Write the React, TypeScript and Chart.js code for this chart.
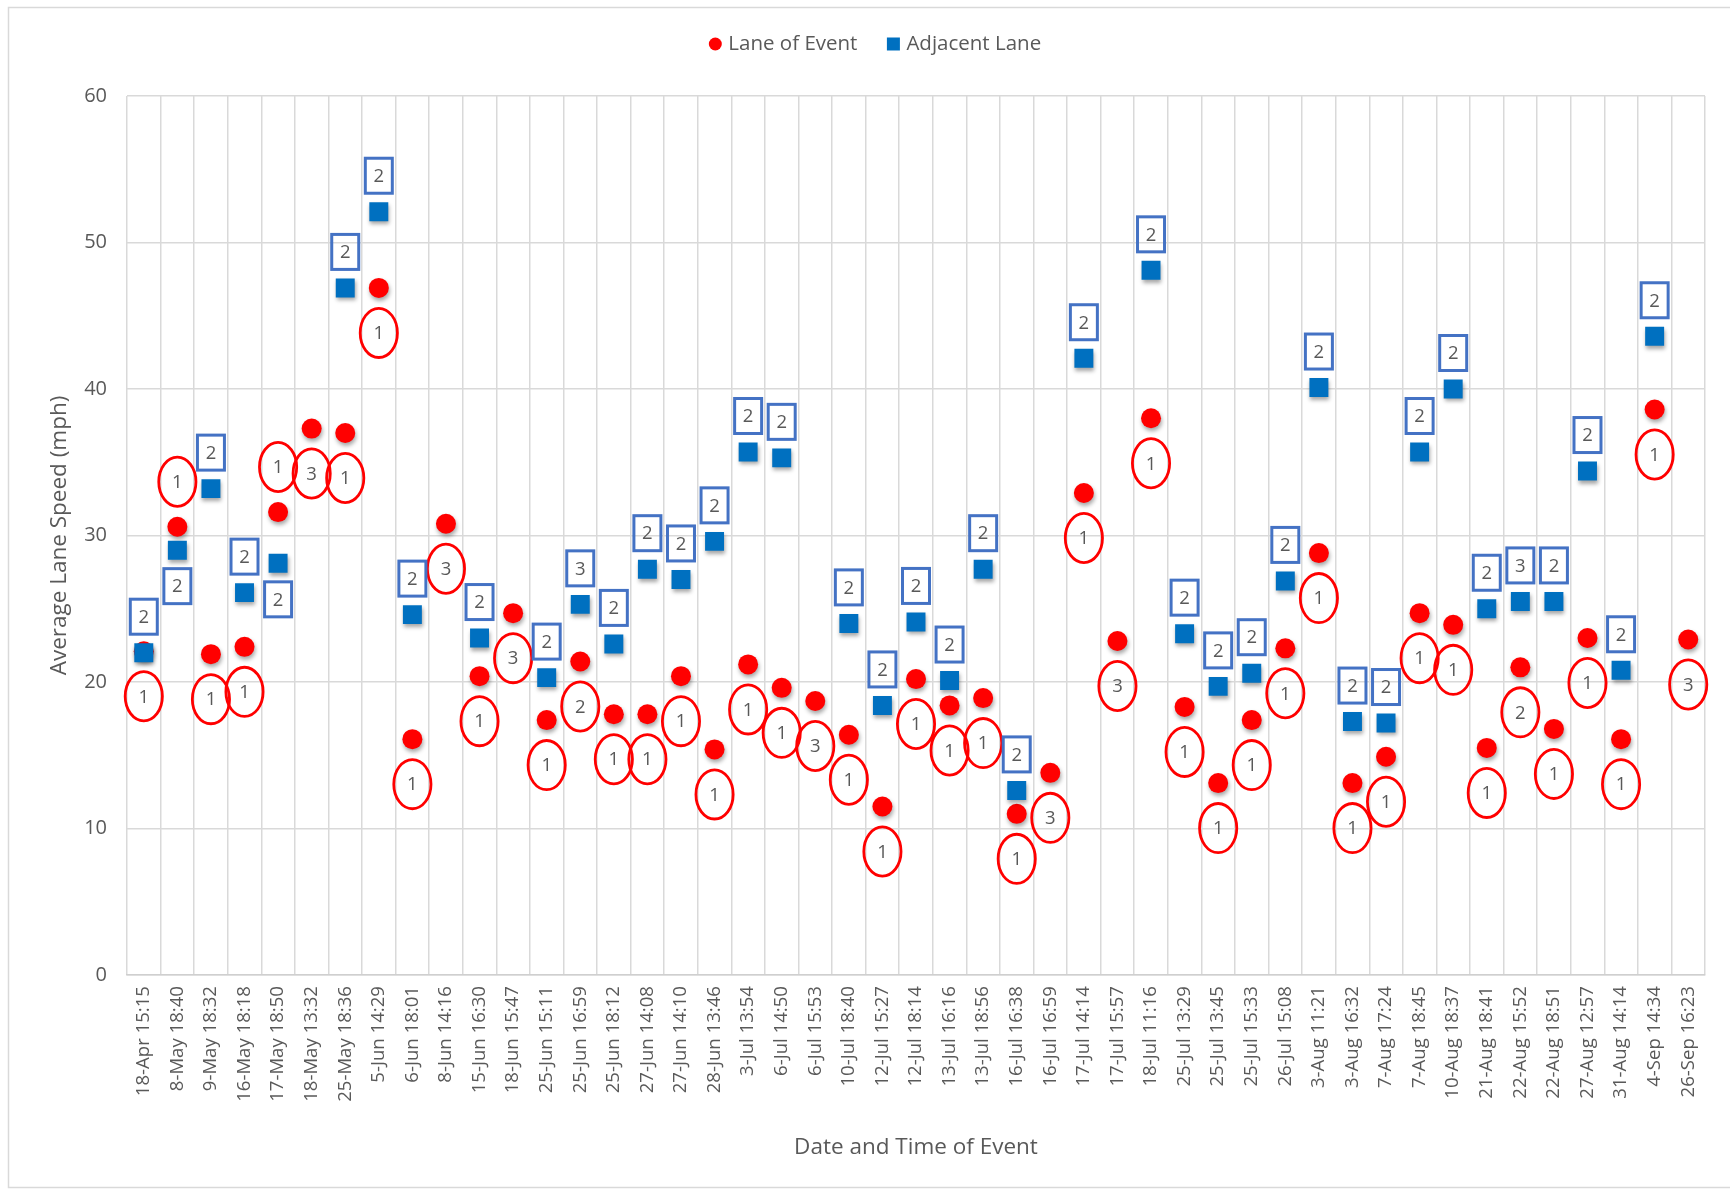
import React, { useEffect, useRef } from 'react';
import { Chart, registerables } from 'chart.js';

Chart.register(...registerables);

const categories = [
  '18-Apr 15:15', '8-May 18:40', '9-May 18:32', '16-May 18:18', '17-May 18:50', '18-May 13:32',
  '25-May 18:36', '5-Jun 14:29', '6-Jun 18:01', '8-Jun 14:16', '15-Jun 16:30', '18-Jun 15:47',
  '25-Jun 15:11', '25-Jun 16:59', '25-Jun 18:12', '27-Jun 14:08', '27-Jun 14:10', '28-Jun 13:46',
  '3-Jul 13:54', '6-Jul 14:50', '6-Jul 15:53', '10-Jul 18:40', '12-Jul 15:27', '12-Jul 18:14',
  '13-Jul 16:16', '13-Jul 18:56', '16-Jul 16:38', '16-Jul 16:59', '17-Jul 14:14', '17-Jul 15:57',
  '18-Jul 11:16', '25-Jul 13:29', '25-Jul 13:45', '25-Jul 15:33', '26-Jul 15:08', '3-Aug 11:21',
  '3-Aug 16:32', '7-Aug 17:24', '7-Aug 18:45', '10-Aug 18:37', '21-Aug 18:41', '22-Aug 15:52',
  '22-Aug 18:51', '27-Aug 12:57', '31-Aug 14:14', '4-Sep 14:34', '26-Sep 16:23',
];

const laneOfEvent = [
  22.1, 30.6, 21.9, 22.4, 31.6, 37.3, 37.0, 46.9, 16.1, 30.8, 20.4, 24.7,
  17.4, 21.4, 17.8, 17.8, 20.4, 15.4, 21.2, 19.6, 18.7, 16.4, 11.5, 20.2,
  18.4, 18.9, 11.0, 13.8, 32.9, 22.8, 38.0, 18.3, 13.1, 17.4, 22.3, 28.8,
  13.1, 14.9, 24.7, 23.9, 15.5, 21.0, 16.8, 23.0, 16.1, 38.6, 22.9,
];

const adjacentLane = [
  22.0, 29.0, 33.2, 26.1, 28.1, null, 46.9, 52.1, 24.6, null, 23.0, null,
  20.3, 25.3, 22.6, 27.7, 27.0, 29.6, 35.7, 35.3, null, 24.0, 18.4, 24.1,
  20.1, 27.7, 12.6, null, 42.1, null, 48.1, 23.3, 19.7, 20.6, 26.9, 40.1,
  17.3, 17.2, 35.7, 40.0, 25.0, 25.5, 25.5, 34.4, 20.8, 43.6, null,
];

// lane number tags shown next to each point
const eventLaneNumbers = [
  1, 1, 1, 1, 1, 3, 1, 1, 1, 3, 1, 3,
  1, 2, 1, 1, 1, 1, 1, 1, 3, 1, 1, 1,
  1, 1, 1, 3, 1, 3, 1, 1, 1, 1, 1, 1,
  1, 1, 1, 1, 1, 2, 1, 1, 1, 1, 3,
];

const adjacentLaneNumbers = [
  2, 2, 2, 2, 2, null, 2, 2, 2, null, 2, null,
  2, 3, 2, 2, 2, 2, 2, 2, null, 2, 2, 2,
  2, 2, 2, null, 2, null, 2, 2, 2, 2, 2, 2,
  2, 2, 2, 2, 2, 3, 2, 2, 2, 2, null,
];

// categories where the tags sit on the opposite side of their points
const flippedTagCategories = [1, 4];

const yMin = 0;
const yMax = 60;
const yStep = 10;

const TEXT = '#595959';
const GRID = '#d9d9d9';
const FONT = "'Open Sans', 'DejaVu Sans', sans-serif";

const framePlugin = {
  id: 'frame',
  beforeDraw(chart: any) {
    const { ctx } = chart;
    ctx.save();
    ctx.fillStyle = '#ffffff';
    ctx.fillRect(0, 0, chart.width, chart.height);
    ctx.strokeStyle = GRID;
    ctx.lineWidth = 1.5;
    ctx.strokeRect(8.5, 7.5, chart.width + 40, 1180);
    ctx.restore();
  },
};

const shadowPlugin = {
  id: 'markerShadow',
  beforeDatasetDraw(chart: any) {
    const { ctx } = chart;
    ctx.save();
    ctx.shadowColor = 'rgba(0,0,0,0.35)';
    ctx.shadowBlur = 4;
    ctx.shadowOffsetX = 1;
    ctx.shadowOffsetY = 3;
  },
  afterDatasetDraw(chart: any) {
    chart.ctx.restore();
  },
};

const tagPlugin = {
  id: 'laneTags',
  afterDatasetsDraw(chart: any) {
    const { ctx } = chart;
    ctx.save();
    ctx.font = `18.5px ${FONT}`;
    ctx.textAlign = 'center';
    ctx.textBaseline = 'middle';
    const redMeta = chart.getDatasetMeta(0);
    const blueMeta = chart.getDatasetMeta(1);
    redMeta.data.forEach((pt: any, i: number) => {
      if (laneOfEvent[i] == null || pt.skip) return;
      const flip = flippedTagCategories.includes(i);
      const cy = pt.y + (flip ? -45 : 45);
      ctx.beginPath();
      ctx.ellipse(pt.x, cy, 18.6, 24.6, 0, 0, Math.PI * 2);
      ctx.strokeStyle = '#FF0000';
      ctx.lineWidth = 2.8;
      ctx.stroke();
      ctx.fillStyle = TEXT;
      ctx.fillText(String(eventLaneNumbers[i]), pt.x, cy + 1);
    });
    blueMeta.data.forEach((pt: any, i: number) => {
      if (adjacentLane[i] == null || pt.skip) return;
      const flip = flippedTagCategories.includes(i);
      const cy = pt.y + (flip ? 36 : -36);
      ctx.strokeStyle = '#4472C4';
      ctx.lineWidth = 3;
      ctx.strokeRect(pt.x - 13.5, cy - 17.5, 27, 35);
      ctx.fillStyle = TEXT;
      ctx.fillText(String(adjacentLaneNumbers[i]), pt.x, cy + 1);
    });
    ctx.restore();
  },
};

const legendPlugin = {
  id: 'topLegend',
  afterDraw(chart: any) {
    const { ctx } = chart;
    ctx.save();
    ctx.font = `20.5px ${FONT}`;
    ctx.textBaseline = 'middle';
    ctx.textAlign = 'left';
    const y = 44;
    const box = 13;
    const gap = 6.5;
    const spacing = 29.5;
    const items = chart.data.datasets.map((ds: any) => ({
      label: ds.label,
      color: ds.backgroundColor,
      style: ds.pointStyle,
    }));
    const widths = items.map((it: any) => box + gap + ctx.measureText(it.label).width);
    const total = widths.reduce((a: number, b: number) => a + b, 0) + spacing * (items.length - 1);
    let x = 875 - total / 2;
    items.forEach((it: any, k: number) => {
      ctx.fillStyle = it.color;
      if (it.style === 'circle') {
        ctx.beginPath();
        ctx.arc(x + box / 2, y, box / 2, 0, Math.PI * 2);
        ctx.fill();
      } else {
        ctx.fillRect(x, y - box / 2, box, box);
      }
      ctx.fillStyle = TEXT;
      ctx.fillText(it.label, x + box + gap, y);
      x += widths[k] + spacing;
    });
    ctx.restore();
  },
};

export default function App() {
  const canvasRef = useRef<HTMLCanvasElement>(null);

  useEffect(() => {
    if (!canvasRef.current) return;
    Chart.defaults.font.family = FONT;
    const chart = new Chart(canvasRef.current, {
      type: 'line',
      data: {
        labels: categories,
        datasets: [
          {
            label: 'Lane of Event',
            data: laneOfEvent,
            showLine: false,
            pointStyle: 'circle',
            pointRadius: 10,
            pointBorderWidth: 0,
            backgroundColor: '#FF0000',
            borderColor: '#FF0000',
            order: 2,
          },
          {
            label: 'Adjacent Lane',
            data: adjacentLane,
            showLine: false,
            pointStyle: 'rect',
            pointRadius: 13.4,
            pointBorderWidth: 0,
            backgroundColor: '#0070C0',
            borderColor: '#0070C0',
            order: 1,
          },
        ],
      },
      options: {
        responsive: false,
        animation: false,
        devicePixelRatio: 1,
        events: [],
        layout: { padding: { top: 96, right: 25, bottom: 0, left: 0 } },
        plugins: {
          legend: { display: false },
          tooltip: { enabled: false },
        },
        scales: {
          x: {
            type: 'category',
            offset: true,
            grid: { offset: true, color: GRID, lineWidth: 1.5, drawTicks: false },
            border: { color: '#cfcfcf', width: 1.5 },
            ticks: {
              autoSkip: false,
              minRotation: 90,
              maxRotation: 90,
              padding: 11,
              color: TEXT,
              font: { family: FONT, size: 18.6 },
            },
            title: {
              display: true,
              text: 'Date and Time of Event',
              color: TEXT,
              font: { family: FONT, size: 22.5 },
              padding: { top: 0, bottom: 30 },
            },
            afterFit: (scale: any) => {
              scale.height = 216;
            },
          },
          y: {
            min: yMin,
            max: yMax,
            grid: { color: GRID, lineWidth: 1.5, drawTicks: false },
            border: { display: false },
            ticks: {
              stepSize: yStep,
              padding: 20,
              color: TEXT,
              font: { family: FONT, size: 20 },
            },
            title: {
              display: true,
              text: 'Average Lane Speed (mph)',
              color: TEXT,
              font: { family: FONT, size: 22.5 },
              padding: { top: 46, bottom: 0 },
            },
            afterFit: (scale: any) => {
              scale.width = 127;
            },
          },
        },
      },
      plugins: [framePlugin, shadowPlugin, tagPlugin, legendPlugin],
    } as any);
    return () => chart.destroy();
  }, []);

  return (
    <div style={{ position: 'fixed', left: 0, top: 0, width: 1730, height: 1191, background: '#fff' }}>
      <canvas ref={canvasRef} width={1730} height={1191} style={{ display: 'block', width: 1730, height: 1191 }} />
    </div>
  );
}
